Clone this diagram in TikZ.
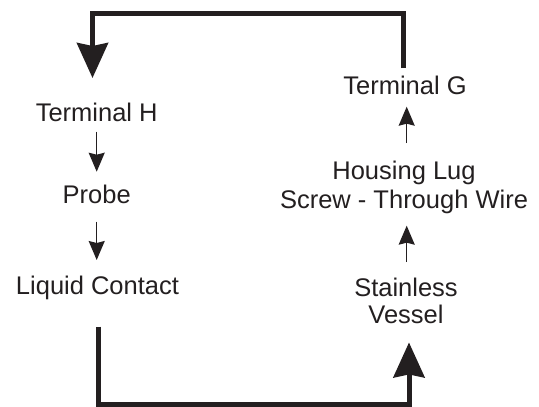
\documentclass[tikz,border=0pt]{standalone}
\usepackage{fontspec}
\setmainfont{Liberation Sans}
\usetikzlibrary{arrows.meta,calc}
\definecolor{ink}{RGB}{35,31,32}
\begin{document}
\begin{tikzpicture}[x=1pt,y=-1pt,
  lbl/.style={inner sep=0pt,text=ink,align=center,font=\fontsize{25.5}{28}\selectfont},
  thinarrow/.style={draw=ink,line width=1.4pt,-{Stealth[length=19pt,width=16pt,inset=2pt]}},
  bigarrow/.style={draw=ink,line width=5pt,line join=miter,-{Stealth[length=35pt,width=31pt,inset=3pt]}}]
\useasboundingbox (0,0) rectangle (539,407);
% left column
\node[lbl,anchor=base] (H) at (96.7,121.7) {Terminal H};
\node[lbl,anchor=base] (P) at (96.7,203) {Probe};
\node[lbl,anchor=base] (L) at (97.5,294) {Liquid Contact};
% right column
\node[lbl,anchor=base] (G) at (405,94.3) {Terminal G};
\node[lbl,anchor=north] (HL) at (404,161) {Housing Lug\\[1pt]Screw - Through Wire};
\node[lbl,anchor=north] (SV) at (406,278.3) {Stainless\\[-1.7pt]Vessel};
% thin arrows
\draw[thinarrow] ($(H.base)+(0,10)$) -- ($(P.base)+(0,-31.3)$);
\draw[thinarrow] ($(P.base)+(0,18.7)$) -- ($(P.base|-L.base)+(0,-34)$);
\draw[thinarrow] ($(HL.north)+(2.7,101)$) -- ($(HL.south)+(2.7,11.5)$);
\draw[thinarrow] ($(HL.north)+(2.7,-18)$) -- ($(HL.north|-G.base)+(2.7,12.4)$);
% thick loop arrows
\draw[bigarrow] ($(G.base)+(-2,-26.3)$) -- ++(0,-55) -| ($(H.base)+(-4.2,-43.7)$);
\draw[bigarrow] ($(L.base)+(0.5,32.7)$) -- ++(0,77.3) -| ($(SV.south)+(3,18.7)$);
\end{tikzpicture}
\end{document}
